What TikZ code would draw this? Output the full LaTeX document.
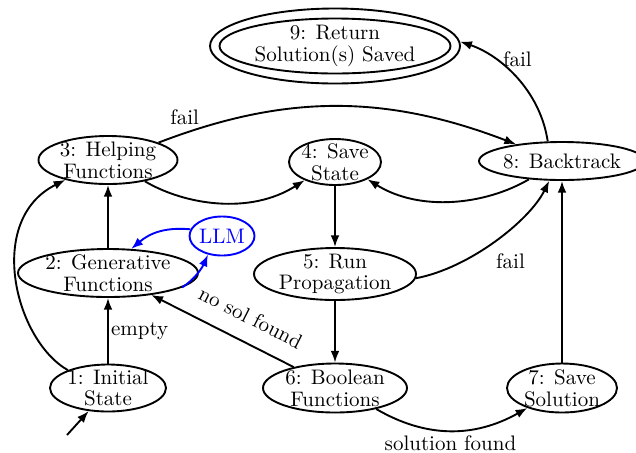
\documentclass[tikz,border=0pt]{standalone}
\usetikzlibrary{shapes.geometric,arrows.meta}
\newcommand{\pxlen}{0.476pt}
\begin{document}
\begin{tikzpicture}[x=0.476pt,y=-0.476pt,
  state/.style={ellipse, draw, line width=0.9pt, inner sep=-30pt, align=center,
    font=\fontsize{10}{10.3}\selectfont},
  sz/.style 2 args={minimum width=#1*\pxlen, minimum height=#2*\pxlen},
  edge/.style={draw, line width=0.9pt, -{Latex[length=5.6pt,width=4.2pt]}},
  lbl/.style={font=\fontsize{10}{12}\selectfont},
  llmcol/.style={draw=blue, text=blue}]
\clip (0,0) rectangle (636,452);

% states
\node[state, sz={116}{47}] (n1) at (108,388) {1: Initial\\State};
\node[state, sz={180}{48}] (n2) at (108,273) {2: Generative\\Functions};
\node[state, sz={139}{48}] (n3) at (108,160) {3: Helping\\Functions};
\node[state, llmcol, sz={65}{39}] (llm) at (222,236) {LLM};
\node[state, sz={92}{46}] (n4) at (335,162) {4: Save\\State};
\node[state, sz={162}{52}] (n5) at (335,274) {5: Run\\Propagation};
\node[state, sz={144}{49}] (n6) at (335,388) {6: Boolean\\Functions};
\node[state, sz={110}{49}] (n7) at (562,388) {7: Save\\Solution};
\node[state, sz={166}{38}] (n8) at (562,161) {8: Backtrack};
\node[state, sz={231}{55}] (n9) at (335,46) {9: Return\\Solution(s) Saved};
\node[state, sz={250}{75}] (n9o) at (335,46) {};

% start marker
\coordinate (entry) at (67,435);
\draw[edge] (entry) -- (n1.230);

% transitions
\draw[edge] (n1) -- node[lbl, right, inner sep=1pt] {empty} (n2);
\draw[edge] (n1.156) .. controls (15,340) and (-15,220) .. (n3.205);
\draw[edge] (n2) -- (n3);
\draw[edge] (n3.-30) .. controls (185,205) and (250,215) .. (n4.211);
\draw[edge] (n3.19) .. controls (285,94) and (385,94) .. node[lbl, pos=0.07, above] {fail} (n8.160);
\draw[edge] (n4) -- (n5);
\draw[edge] (n8.209) .. controls (485,205) and (420,212) .. (n4.-28);
\draw[edge] (n5.-3) .. controls (470,268) and (530,220) .. node[lbl, pos=0.45, anchor=north west] {fail} (n8.237);
\draw[edge] (n5) -- (n6);
\draw[edge] (n6) -- node[lbl, sloped, above=4.5pt, pos=0.38] {no sol found} (n2);
\draw[edge] (n6.-27) .. controls (426,438) and (474,438) .. node[lbl, pos=0.5, below, yshift=1.5pt] {solution found} (n7.210);
\draw[edge] (n7) -- (n8);
\draw[edge] (n8.126) .. controls (540,90) and (500,55) .. node[lbl, pos=0.7, right] {fail} (n9o.2);

% LLM exchange
\draw[edge, blue] (n2.-11.5) .. controls (195,279) and (202,268) .. (llm.233);
\draw[edge, blue] (llm.168) .. controls (165,227) and (150,233) .. (n2.46);
\end{tikzpicture}
\end{document}
